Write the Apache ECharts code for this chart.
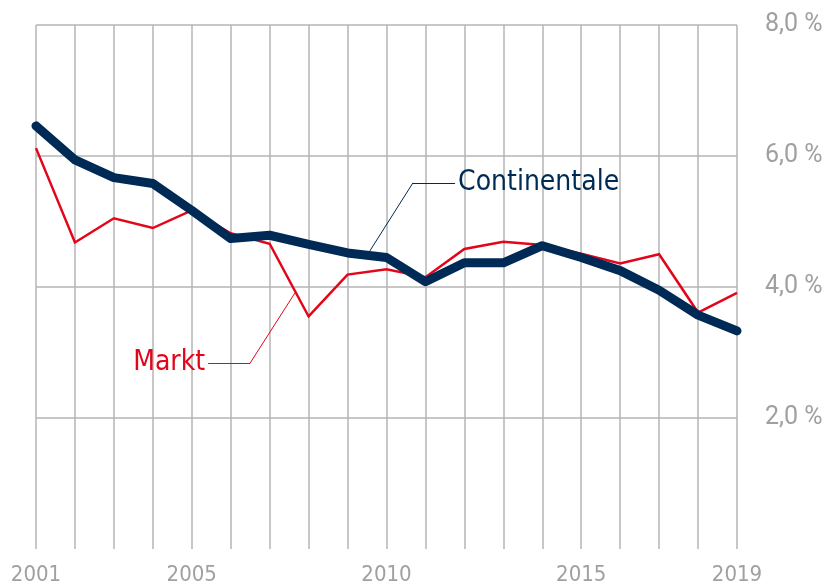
<!DOCTYPE html>
<html>
<head>
<meta charset="utf-8">
<script src="https://cdn.jsdelivr.net/npm/echarts@6/dist/echarts.min.js"></script>
<style>
  html, body { margin: 0; padding: 0; background: #fff; }
  #chart { width: 828px; height: 586px; }
</style>
</head>
<body>
<div id="chart"></div>
<script>
// yearly rates, %
const years = [2001, 2002, 2003, 2004, 2005, 2006, 2007, 2008, 2009, 2010,
               2011, 2012, 2013, 2014, 2015, 2016, 2017, 2018, 2019];
const continentale = [6.46, 5.94, 5.67, 5.58, 5.17, 4.74, 4.79, 4.65, 4.52, 4.45,
                      4.08, 4.37, 4.37, 4.63, 4.45, 4.25, 3.95, 3.57, 3.33];
const markt = [6.12, 4.68, 5.05, 4.90, 5.17, 4.82, 4.66, 3.55, 4.19, 4.27,
               4.15, 4.58, 4.69, 4.64, 4.51, 4.36, 4.50, 3.61, 3.91];
const yearLabels = [2001, 2005, 2010, 2015, 2019];

// leader lines for the series names, in data coordinates [year, %]
const contLeader = [[2009.55, 4.53], [2010.68, 5.59], [2011.76, 5.59]];
const marktLeader = [[2007.65, 3.91], [2006.5, 2.84], [2005.42, 2.84]];

const C = { navy: "#002a56", red: "#e3061b", grid: "#b4b4b4", text: "#a0a0a0" };
const NARROW = "'DejaVu Sans Condensed', 'Liberation Sans Narrow', sans-serif";

function leader(pts, name, color) {
  return {
    silent: true,
    symbol: "none",
    animation: false,
    lineStyle: { color: color, width: 1, type: "solid" },
    label: { show: false },
    emphasis: { disabled: true },
    data: [
      [{ coord: pts[0] }, { coord: pts[1] }],
      [{ coord: pts[1] }, { coord: pts[2],
        label: { show: true, position: "end", distance: 3, formatter: name,
                 color: color, fontSize: 28, fontFamily: NARROW } }],
    ],
  };
}

const chart = echarts.init(document.getElementById("chart"));
chart.setOption({
  animation: false,
  backgroundColor: "#fff",
  grid: { left: 36, right: 91, top: 25, bottom: 37, containLabel: false },
  xAxis: {
    type: "value", min: 2001, max: 2019, interval: 1,
    axisLine: { show: false }, axisTick: { show: false },
    splitLine: { show: true, lineStyle: { color: C.grid, width: 1.5 } },
    axisLabel: {
      margin: 15, color: C.text, fontSize: 22, fontFamily: NARROW,
      formatter: (v) => (yearLabels.includes(v) ? String(v) : ""),
    },
  },
  yAxis: {
    type: "value", position: "right", min: 0, max: 8, interval: 2,
    axisLine: { show: false }, axisTick: { show: false },
    splitLine: { show: true, lineStyle: {
      color: ["rgba(0,0,0,0)", C.grid, C.grid, C.grid, C.grid], width: 1.5 } },
    axisLabel: {
      margin: 28, color: C.text, fontSize: 25, fontFamily: "Roboto, sans-serif",
      formatter: (v) => (v === 0 ? "" : v.toFixed(1).replace(".", ",") + " %"),
    },
  },
  series: [
    {
      name: "Markt", type: "line", z: 2, symbol: "none",
      data: years.map((y, i) => [y, markt[i]]),
      lineStyle: { color: C.red, width: 2.5, join: "miter" },
      markLine: leader(marktLeader, "Markt", C.red),
    },
    {
      name: "Continentale", type: "line", z: 3, symbol: "none",
      data: years.map((y, i) => [y, continentale[i]]),
      lineStyle: { color: C.navy, width: 9, cap: "round", join: "round" },
      markLine: leader(contLeader, "Continentale", C.navy),
    },
  ],
});
</script>
</body>
</html>
